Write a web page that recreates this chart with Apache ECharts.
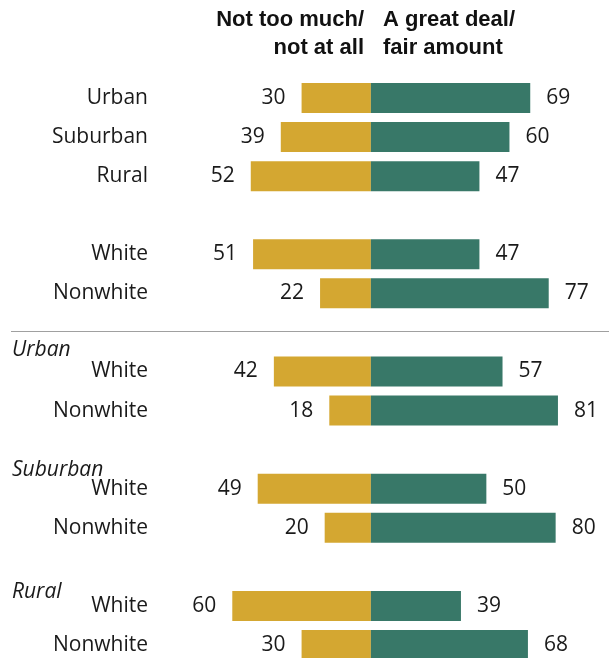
<!DOCTYPE html>
<html><head><meta charset="utf-8">
<script src="https://cdn.jsdelivr.net/npm/echarts@6/dist/echarts.min.js"></script>
<style>html,body{margin:0;padding:0;background:#fff}#c{width:609px;height:658px}</style>
</head><body><div id="c"></div>
<script>
var categories = ['Urban','Suburban','Rural','g1','White','Nonwhite','g2','White ','Nonwhite ','g3','White  ','Nonwhite  ','g4','White   ','Nonwhite   '];
var notMuch = [30,39,52,null,51,22,null,42,18,null,49,20,null,60,30];
var greatDeal = [69,60,47,null,47,77,null,57,81,null,50,80,null,39,68];
var groupLabels = ['Urban','Suburban','Rural'];
var headerLeft = ['Not too much/','not at all'];
var headerRight = ['A great deal/','fair amount'];

var FONT = '"Open Sans", sans-serif';
var TXT = '#1a1a1a';
var chart = echarts.init(document.getElementById('c'), null, {renderer:'canvas'});
var groupY = [350, 470, 592];
var graphics = [];
var HFONT = 'bold 22px "Liberation Sans", Arial, sans-serif';
headerLeft.forEach(function(t,i){
  graphics.push({type:'text', x:364, y:20+i*28, style:{text:t, font:HFONT, fill:'#111', textAlign:'right', textVerticalAlign:'middle'}});
});
headerRight.forEach(function(t,i){
  graphics.push({type:'text', x:383, y:20+i*28, style:{text:t, font:HFONT, fill:'#111', textAlign:'left', textVerticalAlign:'middle'}});
});
groupLabels.forEach(function(t,i){
  graphics.push({type:'text', x:12, y:groupY[i], style:{text:t, font:'italic 21px ' + FONT, fill:TXT, textAlign:'left', textVerticalAlign:'middle'}});
});
graphics.push({type:'line', shape:{x1:11,y1:331.5,x2:609,y2:331.5}, style:{stroke:'#a0a0a0', lineWidth:1}});

chart.setOption({
  animation:false,
  grid:{left:160, right:0, top:98, height:547, containLabel:false},
  xAxis:{type:'value', min:-91.3, max:103.1, show:false},
  yAxis:{type:'category', inverse:true, boundaryGap:false, data:categories,
    axisLine:{show:false, onZero:false}, axisTick:{show:false}, splitLine:{show:false},
    axisLabel:{margin:12, fontFamily:'Open Sans', fontSize:21, color:TXT, padding:[4,0,0,0],
      formatter:function(v){ return v.charAt(0)==='g' && v.length===2 ? '' : v.trim(); }}
  },
  graphic:graphics,
  series:[
    {type:'bar', stack:'a', barWidth:30, clip:false, data:notMuch.map(function(v){return v==null?'-':-v;}),
     itemStyle:{color:'#D4A731'},
     label:{show:true, position:'left', distance:16, fontFamily:'Open Sans', fontSize:21, color:TXT, padding:[4,0,0,0],
       formatter:function(p){return Math.abs(p.value);}}},
    {type:'bar', stack:'a', barWidth:30, clip:false, data:greatDeal.map(function(v){return v==null?'-':v;}),
     itemStyle:{color:'#387868'},
     label:{show:true, position:'right', distance:16, fontFamily:'Open Sans', fontSize:21, color:TXT, padding:[4,0,0,0]}}
  ]
});
</script></body></html>
